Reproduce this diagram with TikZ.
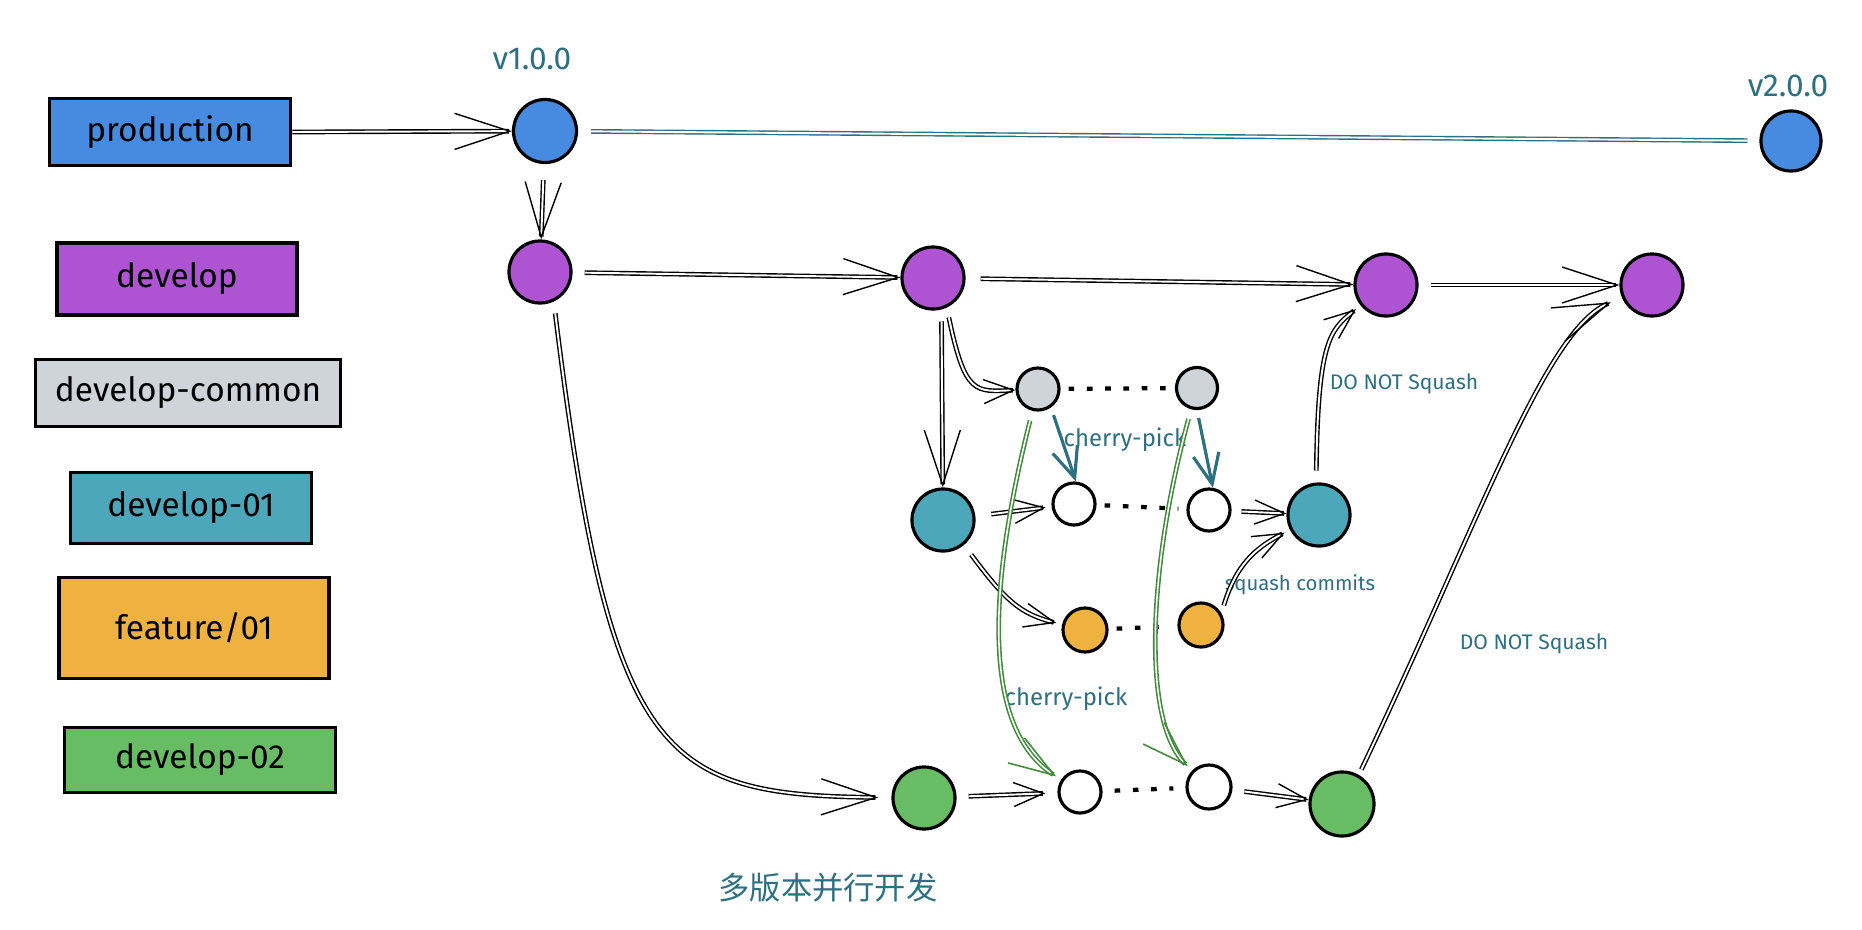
\documentclass[tikz,border=0pt]{standalone}
\usepackage{fontspec}
\setmainfont{Fira Sans}
\newfontfamily\cjkfont{Noto Sans CJK SC}
\usetikzlibrary{arrows.meta, positioning}
\definecolor{prodblue}{RGB}{70,139,223}
\definecolor{devpurple}{RGB}{174,84,210}
\definecolor{commongray}{RGB}{206,212,218}
\definecolor{devteal}{RGB}{77,167,187}
\definecolor{featorange}{RGB}{239,178,64}
\definecolor{devgreen}{RGB}{104,189,100}
\definecolor{labelteal}{RGB}{45,112,130}
\definecolor{pickgreen}{RGB}{64,140,58}

\tikzset{
    branchbox/.style={draw=black, line width=1pt, inner sep=0pt, font=\fontsize{9.5}{11}\selectfont},
    commit/.style={circle, draw=black, line width=0.9pt, inner sep=0pt},
    tag/.style={text=labelteal, font=\fontsize{#1}{#1}\selectfont},
    flow/.style={draw=black, line width=0.4pt, double, double distance=0.55pt, -{Straight Barb[length=5.5mm, width=3.6mm]}},
    hop/.style={draw=black, line width=0.4pt, double, double distance=0.55pt, -{Straight Barb[length=3mm, width=2.4mm]}},
    pick/.style={draw=labelteal, line width=0.9pt, -{Straight Barb[length=3mm, width=2.6mm]}},
    greenpick/.style={draw=pickgreen, line width=0.45pt, double, double distance=0.45pt, -{Straight Barb[length=4.5mm, width=3mm]}},
    dots/.style={line width=1.2pt, dash pattern=on 1.6pt off 3.6pt}
}

\begin{document}
\begin{tikzpicture}[x=0.01cm, y=-0.01cm]
    \useasboundingbox (0,0) rectangle (1862,930);

    % Branch legend
    \foreach \n/\t/\c/\x/\y/\w/\h in {
        prod/production/prodblue/170/132/241/67,
        dev/develop/devpurple/177/279/240/72,
        common/develop-common/commongray/188/393/305/67,
        d01/develop-01/devteal/191/508/241/71,
        feat/{feature/01}/featorange/194/628/270/101,
        d02/develop-02/devgreen/200/760/271/65} {
        \node[branchbox, fill=\c, minimum width=\w*0.1mm, minimum height=\h*0.1mm] (\n) at (\x,\y) {\t};
    }

    % Commits
    \foreach \n/\c/\x/\y/\s in {
        v1/prodblue/545/131/63, v2/prodblue/1791/141/60,
        dv1/devpurple/540/272/62, dv2/devpurple/933/278/62,
        dv3/devpurple/1386/285/62, dv4/devpurple/1652/285/62,
        gr1/commongray/1038/389/42, gr2/commongray/1197/388/41,
        tl1/devteal/943/520/62, tl2/devteal/1319/515/62,
        wh1/white/1074/504/42, wh2/white/1209/510/42,
        or1/featorange/1085/630/44, or2/featorange/1201/625/44,
        gn1/devgreen/924/798/62, gn2/devgreen/1342/804/64,
        wh3/white/1080/792/42, wh4/white/1209/787/44} {
        \node[commit, fill=\c, minimum size=\s*0.1mm] (\n) at (\x,\y) {};
    }

    % Labels
    \node[tag=9] (v1tag) at (532,59) {v1.0.0};
    \node[tag=9] (v2tag) at (1788,86) {v2.0.0};
    \node[tag=6.8] (pickup) at (1125,440) {cherry-pick};
    \node[tag=6.8] (pickdown) at (1066,699) {cherry-pick};
    \node[tag=6] (nosq1) at (1404,384) {DO NOT Squash};
    \node[tag=6] (nosq2) at (1534,644) {DO NOT Squash};
    \node[tag=5.8] (squash) at (1300,585) {squash commits};
    \node[text=labelteal, font=\cjkfont\fontsize{8.9}{10}\selectfont] (title) at (828,888) {多版本并行开发};

    % production and develop
    \draw[flow] (prod.east) -- (v1);
    \draw[flow, shorten <=1.6mm] (v1) -- (dv1);
    \draw[draw=labelteal, line width=0.4pt, double, double distance=0.55pt, shorten <=1.3mm, shorten >=1.2mm] (v1) -- (v2);
    \draw[flow, shorten <=1.2mm] (dv1) -- (dv2);
    \draw[flow, shorten <=1.5mm] (dv2) -- (dv3);
    \draw[flow, shorten <=1.2mm] (dv3) -- (dv4);

    % develop-02
    \draw[flow, shorten <=1.2mm, shorten >=1.3mm] (dv1.-65) .. controls (610,760) and (660,795) .. (gn1);
    \draw[hop, shorten <=1.2mm, shorten >=1.2mm] (gn1) -- (wh3);
    \draw[dots, shorten <=1.2mm, shorten >=1.2mm] (wh3) -- (wh4);
    \draw[hop, shorten <=1.2mm] (wh4) -- (gn2);
    \draw[flow, shorten <=0.6mm, shorten >=1.2mm] (gn2.60) .. controls (1480,520) and (1545,330) .. (dv4);

    % develop-01 and develop-common
    \draw[flow, shorten <=1.2mm] (dv2.-75) -- (tl1);
    \draw[hop, shorten <=1.0mm] (dv2.-65) .. controls (965,395) and (975,392) .. (gr1);
    \draw[dots, shorten <=0.8mm, shorten >=0.8mm] (gr1) -- (gr2);
    \draw[hop, shorten <=1.6mm, shorten >=0.6mm] (tl1) -- (wh1);
    \draw[dots, shorten <=0.8mm, shorten >=0.8mm] (wh1) -- (wh2);
    \draw[hop, shorten <=1.0mm] (wh2) -- (tl2);
    \draw[hop, shorten <=1.2mm, shorten >=0.6mm] (tl2.95) .. controls (1318,340) and (1330,330) .. (dv3);

    % feature/01
    \draw[hop, shorten <=1.2mm, shorten >=0.6mm] (tl1.-50) .. controls (1005,600) and (1020,614) .. (or1);
    \draw[dots, shorten <=0.8mm, shorten >=0.8mm] (or1) -- (or2);
    \draw[hop, shorten <=0.8mm, shorten >=0.6mm] (or2.30) .. controls (1236,565) and (1255,548) .. (tl2);

    % cherry-pick
    \draw[pick, shorten <=0.8mm] (gr1.-55) -- (wh1.85);
    \draw[pick, shorten <=0.8mm] (gr2.-90) -- (wh2.80);
    \draw[greenpick, shorten <=1.0mm, shorten >=0.6mm] (gr1) .. controls (985,600) and (985,730) .. (wh3);
    \draw[greenpick, shorten <=1.0mm, shorten >=0.6mm] (gr2) .. controls (1150,560) and (1140,720) .. (wh4);
\end{tikzpicture}
\end{document}
